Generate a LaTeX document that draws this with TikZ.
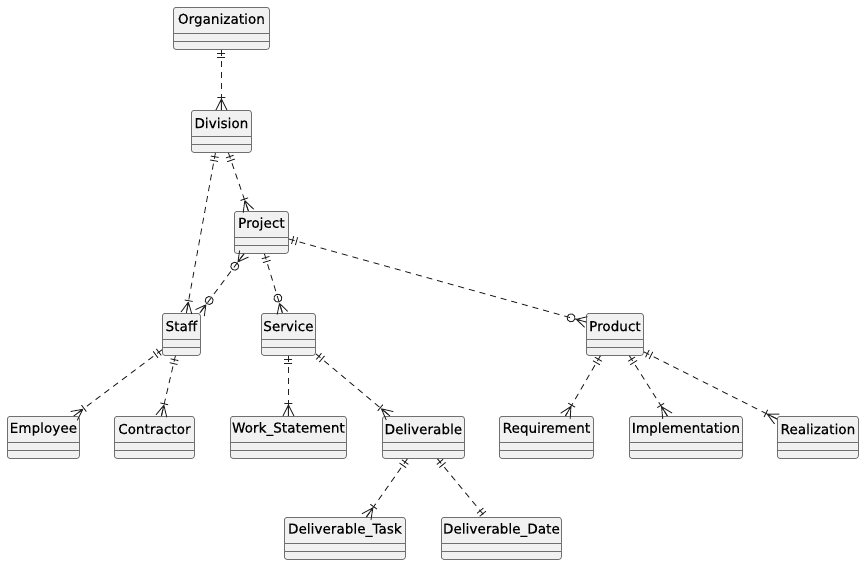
\documentclass[tikz,border=0pt]{standalone}
\usepackage{fontspec}
\setmainfont{DejaVu Sans}[FakeBold=0.25]
\usetikzlibrary{calc,decorations.markings}
\definecolor{entfill}{HTML}{F1F1F1}
\definecolor{entdraw}{HTML}{707070}
\definecolor{linecol}{HTML}{222222}
\tikzset{
  ent/.style={draw=entdraw, fill=entfill, line width=0.8pt, rounded corners=2.5pt,
    minimum height=42pt, inner sep=0pt},
  entlabel/.style={inner sep=0pt, font=\fontsize{13.6}{16}\selectfont, text=black},
  divider/.style={draw=entdraw, line width=0.8pt},
  rel/.style={draw=linecol, line width=0.9pt, dash pattern=on 6pt off 5pt},
  symb/.style={draw=linecol, line width=0.9pt, solid},
  sone/.style={postaction={decoration={markings, mark=at position 0 with {
      \draw[symb] (4,-4) -- (4,4) (8,-4) -- (8,4);}}, decorate}},
  eone/.style={postaction={decoration={markings, mark=at position 1 with {
      \draw[symb] (-4,-4) -- (-4,4) (-8,-4) -- (-8,4);}}, decorate}},
  emany/.style={postaction={decoration={markings, mark=at position 1 with {
      \draw[symb] (-11,0) -- (0,5.5) (-11,0) -- (0,-5.5) (-11,0) -- (0,0)
        (-12.5,-4) -- (-12.5,4);}}, decorate}},
  ezmany/.style={postaction={decoration={markings, mark=at position 1 with {
      \draw[symb] (-10,0) -- (0,5.5) (-10,0) -- (0,-5.5) (-10,0) -- (0,0);
      \draw[symb] (-15.5,0) circle (4);}}, decorate}},
  szmany/.style={postaction={decoration={markings, mark=at position 0 with {
      \draw[symb] (10,0) -- (0,5.5) (10,0) -- (0,-5.5) (10,0) -- (0,0);
      \draw[symb] (15.5,0) circle (4);}}, decorate}},
}
\newcommand\entity[5]{%
  \node[ent, minimum width=#4pt, anchor=north west] (#1) at (#2,#3) {};
  \node[entlabel] (#1-t) at ($(#1.north)+(0,13)$) {#5};
  \draw[divider] ($(#1.north west)+(0,26)$) -- ($(#1.north east)+(0,26)$);
  \draw[divider] ($(#1.north west)+(0,34)$) -- ($(#1.north east)+(0,34)$);
}
\begin{document}
\begin{tikzpicture}[x=1pt,y=-1pt]
\useasboundingbox (0,0) rectangle (865,565);
\entity{org}{173}{7}{96}{Organization}
\entity{div}{191}{110}{60}{Division}
\entity{proj}{234}{211}{54}{Project}
\entity{staff}{162}{313}{38}{Staff}
\entity{serv}{261}{313}{54}{Service}
\entity{prod}{586}{313}{57}{Product}
\entity{emp}{7}{416}{72}{Employee}
\entity{con}{114}{416}{80}{Contractor}
\entity{ws}{230}{416}{116}{Work\_Statement}
\entity{del}{382}{416}{82}{Deliverable}
\entity{req}{499}{416}{94}{Requirement}
\entity{impl}{629}{416}{113}{Implementation}
\entity{real}{777}{416}{81}{Realization}
\entity{dtask}{284}{517}{121}{Deliverable\_Task}
\entity{ddate}{441}{517}{120}{Deliverable\_Date}

\draw[rel, sone, emany] (org.south) -- (div.north);
\draw[rel, sone, emany] ($(div.south)+(-6,0)$) -- ($(staff.north)+(5,0)$);
\draw[rel, sone, emany] ($(div.south)+(7,0)$) -- ($(proj.north)+(-13,0)$);
\draw[rel, szmany, ezmany] ($(proj.south west)+(10,0)$) -- ($(staff.north east)+(-1,0)$);
\draw[rel, sone, ezmany] ($(proj.south)+(3,0)$) -- ($(serv.north)+(-6,0)$);
\draw[rel, sone, ezmany] ($(proj.north east)+(0,28)$) -- ($(prod.north west)+(0,9)$);
\draw[rel, sone, emany] ($(staff.south west)+(0,-6)$) -- ($(emp.north east)+(-6,0)$);
\draw[rel, sone, emany] ($(staff.south)+(-6,0)$) -- ($(con.north)+(7,0)$);
\draw[rel, sone, emany] (serv.south) -- (ws.north);
\draw[rel, sone, emany] ($(serv.south east)+(0,-2)$) -- ($(del.north west)+(8,0)$);
\draw[rel, sone, emany] ($(prod.south)+(-14.5,0)$) -- ($(req.north)+(19,0)$);
\draw[rel, sone, emany] ($(prod.south)+(14.5,0)$) -- ($(impl.north)+(-18.5,0)$);
\draw[rel, sone, emany] ($(prod.south east)+(0,-4)$) -- ($(real.north west)+(0,3)$);
\draw[rel, sone, emany] ($(del.south)+(-16,0)$) -- ($(dtask.north)+(21.5,0)$);
\draw[rel, sone, eone] ($(del.south)+(14,0)$) -- ($(ddate.north)+(-16,0)$);
\end{tikzpicture}
\end{document}
